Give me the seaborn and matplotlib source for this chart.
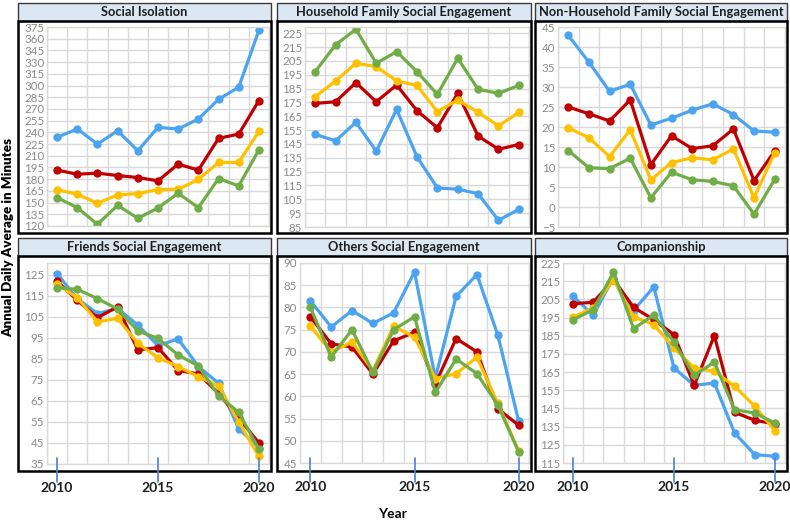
"""
Six-panel line chart: annual daily average minutes by activity type, 2010-2020.
"""
import pandas as pd
import matplotlib
matplotlib.use("Agg")
import matplotlib.pyplot as plt
from matplotlib.patches import Rectangle
from matplotlib.lines import Line2D
from matplotlib.transforms import blended_transform_factory
import seaborn as sns

YEARS = list(range(2010, 2021))
GROUPS = ["Group 1", "Group 2", "Group 3", "Group 4"]
COLORS = ["#4CA3F0", "#C00000", "#FFC000", "#70AD47"]
XTICKS = [2010, 2015, 2020]

# values, per group (blue, red, yellow, green)
social_isolation = [
    [233.6, 244.3, 225.0, 242.1, 216.4, 246.4, 244.3, 257.1, 282.4, 297.9, 370.7],
    [191.6, 186.4, 187.7, 184.7, 182.1, 177.9, 199.3, 191.6, 232.3, 237.8, 280.7],
    [166.7, 160.7, 149.1, 159.8, 161.5, 166.7, 167.1, 179.6, 201.4, 201.4, 241.3],
    [156.4, 143.5, 122.1, 146.5, 129.8, 143.1, 162.0, 143.5, 180.8, 171.4, 217.7],
]
household_family = [
    [151.9, 147.3, 160.6, 139.8, 170.0, 135.7, 113.2, 112.3, 109.1, 89.8, 97.8],
    [174.3, 175.5, 189.3, 175.5, 187.6, 169.0, 156.7, 181.6, 150.7, 141.2, 144.6],
    [179.1, 190.5, 203.3, 200.9, 190.5, 187.3, 168.3, 176.7, 167.8, 158.1, 167.8],
    [197.2, 216.6, 227.9, 203.3, 211.7, 197.2, 180.8, 206.9, 184.5, 181.6, 187.3],
]
non_household_family = [
    [42.9, 36.2, 28.9, 30.7, 20.5, 22.2, 24.2, 25.8, 23.1, 19.0, 18.7],
    [25.0, 23.3, 21.5, 26.8, 10.6, 17.8, 14.6, 15.3, 19.5, 6.6, 14.0],
    [19.8, 17.3, 12.6, 19.3, 6.8, 11.1, 12.3, 11.8, 14.5, 2.3, 13.6],
    [14.1, 9.8, 9.6, 12.2, 2.3, 8.7, 6.8, 6.4, 5.3, -1.8, 6.9],
]
friends = [
    [125.5, 113.5, 106.5, 108.9, 101.0, 91.3, 94.4, 81.3, 73.4, 51.7, 42.8],
    [121.8, 112.8, 104.5, 109.7, 89.2, 90.3, 79.4, 77.8, 68.6, 56.8, 45.0],
    [120.4, 114.0, 102.6, 104.2, 92.3, 85.5, 81.3, 76.5, 72.1, 54.9, 38.6],
    [118.7, 118.0, 113.6, 108.6, 98.2, 94.7, 86.8, 81.6, 67.5, 59.5, 42.1],
]
others = [
    [81.5, 75.6, 79.3, 76.4, 78.8, 88.0, 64.1, 82.5, 87.4, 73.8, 54.5],
    [77.9, 71.8, 71.1, 65.0, 72.5, 74.4, 62.8, 73.0, 70.0, 57.2, 53.5],
    [75.8, 70.0, 72.2, 65.8, 75.8, 73.3, 64.0, 65.1, 68.8, 58.4, 47.8],
    [80.0, 68.9, 75.0, 65.4, 75.0, 77.9, 60.9, 68.4, 65.1, 58.1, 47.5],
]
companionship = [
    [206.7, 196.2, 217.0, 199.0, 211.8, 167.3, 157.7, 159.0, 131.5, 119.6, 118.7],
    [202.6, 203.4, 215.8, 200.6, 193.8, 185.6, 157.7, 185.0, 142.9, 138.5, 136.5],
    [195.3, 200.3, 215.8, 195.3, 191.1, 178.3, 167.3, 165.4, 157.2, 146.2, 132.8],
    [193.8, 199.3, 219.9, 188.9, 196.4, 181.4, 163.2, 170.5, 144.3, 142.5, 137.0],
]

TITLES = [
    "Social Isolation",
    "Household Family Social Engagement",
    "Non-Household Family Social Engagement",
    "Friends Social Engagement",
    "Others Social Engagement",
    "Companionship",
]
SERIES = [social_isolation, household_family, non_household_family,
          friends, others, companionship]
YTICKS = [
    list(range(120, 376, 15)),
    list(range(85, 226, 10)),
    list(range(-5, 46, 5)),
    list(range(35, 126, 10)),
    list(range(45, 91, 5)),
    list(range(115, 226, 10)),
]
YLIMS = [(120, 375), (85, 229.5), (-5, 45), (35, 130.5), (45, 90), (115, 225)]

# layout in pixels (figure is 790 x 522)
W, H = 790, 522
BOX_X = [(18, 271), (277, 531), (535, 787)]
BOX_Y = [(3, 21, 233), (238, 256, 471)]  # strip top, strip bottom, box bottom
AX_LEFT = [47, 305, 558, 47, 300, 563]
AX_Y = [(27, 226), (27, 227), (27, 227), (263, 464), (263, 463), (263, 463)]
TICK_Y = (458, 482)  # blue year ticks, top and bottom in pixels


def frac(x0, y0, x1, y1):
    return [x0 / W, 1 - y1 / H, (x1 - x0) / W, (y1 - y0) / H]


def main():
    sns.set_theme(style="white")
    plt.rcParams["font.family"] = ["Lato", "DejaVu Sans"]

    fig = plt.figure(figsize=(W / 100, H / 100), dpi=100)

    for i, (title, vals) in enumerate(zip(TITLES, SERIES)):
        row, col = divmod(i, 3)
        bx0, bx1 = BOX_X[col]
        sy0, sy1, by1 = BOX_Y[row]

        # title strip + panel frame
        fig.add_artist(Rectangle(frac(bx0, sy0, bx1, sy1)[:2], (bx1 - bx0) / W,
                                 (sy1 - sy0) / H, transform=fig.transFigure,
                                 facecolor="#DCE7F4", edgecolor="#3a3a3a",
                                 linewidth=1.0, zorder=1))
        fig.text((bx0 + bx1) / 2 / W, 1 - (sy0 + sy1) / 2 / H, title,
                 ha="center", va="center", fontsize=9.3, fontweight="bold",
                 color="#1f1f1f")

        ay0, ay1 = AX_Y[i]
        ax = fig.add_axes(frac(AX_LEFT[i], ay0, bx1 - 2, ay1))
        ax.set_facecolor("none")

        df = pd.DataFrame({
            "Year": YEARS * len(GROUPS),
            "Minutes": [v for series in vals for v in series],
            "Group": [g for g in GROUPS for _ in YEARS],
        })
        sns.lineplot(data=df, x="Year", y="Minutes", hue="Group",
                     hue_order=GROUPS, palette=COLORS, marker="o",
                     markersize=6, markeredgewidth=0, linewidth=2.3,
                     legend=False, ax=ax)

        # category-style grid: vertical lines between years
        ax.set_xlim(YEARS[0] - 0.5, YEARS[-1] + 0.5)
        ax.set_xticks([y - 0.5 for y in YEARS] + [YEARS[-1] + 0.5], minor=True)
        ax.set_yticks(YTICKS[i])
        ax.set_ylim(*YLIMS[i])
        ax.grid(which="minor", axis="x", color="#d9d9d9", linewidth=1.0)
        ax.grid(which="major", axis="y", color="#d9d9d9", linewidth=1.0)
        ax.set_axisbelow(True)
        for side in ax.spines.values():
            side.set_color("#d9d9d9")
            side.set_linewidth(1.0)
        ax.tick_params(axis="y", which="both", length=0, pad=2,
                       labelsize=8.3, labelcolor="#8a8a8a")
        ax.tick_params(axis="x", which="both", length=0)
        ax.set_xlabel("")
        ax.set_ylabel("")

        fig.add_artist(Rectangle(frac(bx0, sy1, bx1, by1)[:2], (bx1 - bx0) / W,
                                 (by1 - sy1) / H, transform=fig.transFigure,
                                 facecolor="none", edgecolor="black",
                                 linewidth=1.8, zorder=5))

        if row == 1:
            ax.set_xticks(XTICKS)
            ax.set_xticklabels([str(t) for t in XTICKS], fontsize=10,
                               fontweight="bold", color="#1f1f1f")
            ax.tick_params(axis="x", which="major", pad=13)
            trans = blended_transform_factory(ax.transData, fig.transFigure)
            for t in XTICKS:
                fig.add_artist(Line2D([t, t], [1 - TICK_Y[1] / H, 1 - TICK_Y[0] / H],
                                      transform=trans, color="#4C7FD0",
                                      linewidth=1.2, zorder=6))
        else:
            ax.set_xticks([])

    fig.text(8 / W, 1 - 237 / H, "Annual Daily Average in Minutes",
             rotation=90, ha="center", va="center", fontsize=9.6,
             fontweight="heavy", color="black")
    fig.text(392 / W, 1 - 514 / H, "Year", ha="center", va="center",
             fontsize=10, fontweight="bold", color="black")

    fig.savefig("out.png", dpi=100)
    plt.close(fig)


if __name__ == "__main__":
    main()
